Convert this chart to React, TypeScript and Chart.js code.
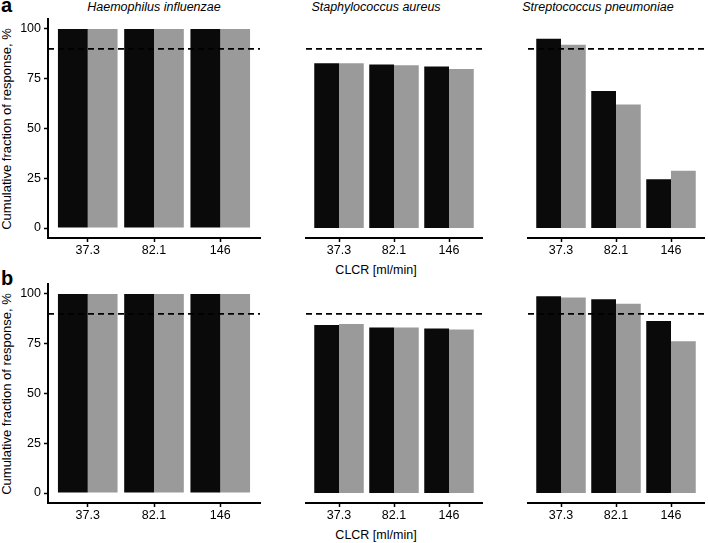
import React, { useEffect, useRef } from "react";
import { Chart, registerables } from "chart.js";

Chart.register(...registerables);

// ---------- data ----------
const categories = ["37.3", "82.1", "146"];
const organisms = ["Haemophilus influenzae", "Staphylococcus aureus", "Streptococcus pneumoniae"];
const yTicks = [0, 25, 50, 75, 100];
const targetLine = 90;
const yAxisTitle = "Cumulative fraction of response, %";
const xAxisTitle = "CLCR [ml/min]";

// panel a
const aHinfBlack = [100, 100, 100];
const aHinfGray = [100, 100, 100];
const aSaurBlack = [82.8, 82.1, 81.1];
const aSaurGray = [82.8, 81.8, 79.9];
const aSpneBlack = [95.1, 68.8, 24.5];
const aSpneGray = [92.1, 62.0, 28.8];

// panel b
const bHinfBlack = [100, 100, 100];
const bHinfGray = [100, 100, 100];
const bSaurBlack = [84.4, 83.2, 82.6];
const bSaurGray = [84.9, 83.1, 82.2];
const bSpneBlack = [98.8, 97.3, 86.4];
const bSpneGray = [98.2, 95.1, 76.2];

// ---------- styling ----------
const FONT = "'Liberation Sans', Arial, Helvetica, sans-serif";
const BLACK = "#0a0a0a";
const GRAY = "#9a9a9a";
const TEXT = "#000000";
const X_AXIS_H = 20;
const Y_AXIS_W = 36;
const PAD_TOP = 14;
const PAD_RIGHT = 4;
const PAD_BOTTOM = 2;
const PAD_LEFT = 4;

const hlinePlugin = {
  id: "hline90",
  afterDatasetsDraw(chart: any) {
    const { ctx, chartArea } = chart;
    const y = chart.scales.y.getPixelForValue(targetLine);
    ctx.save();
    ctx.setLineDash([6, 4]);
    ctx.lineWidth = 1.8;
    ctx.strokeStyle = "#000";
    ctx.beginPath();
    ctx.moveTo(chartArea.left, y);
    ctx.lineTo(chartArea.right, y);
    ctx.stroke();
    ctx.restore();
  },
};

type PanelProps = {
  x0: number;
  x1: number;
  y0: number;
  y1: number;
  showY: boolean;
  black: number[];
  gray: number[];
};

function Panel({ x0, x1, y0, y1, showY, black, gray }: PanelProps) {
  const ref = useRef<HTMLCanvasElement | null>(null);
  const left = showY ? x0 - Y_AXIS_W : x0 - PAD_LEFT;
  const top = y0 - PAD_TOP;
  const width = x1 + PAD_RIGHT - left;
  const height = y1 + X_AXIS_H + PAD_BOTTOM - top;

  useEffect(() => {
    if (!ref.current) return;
    const chart = new Chart(ref.current, {
      type: "bar",
      data: {
        datasets: [
          {
            data: categories.map((_, i) => ({ x: i + 1, y: black[i] })),
            backgroundColor: BLACK,
            borderWidth: 0,
            categoryPercentage: 0.9,
            barPercentage: 1.0,
          },
          {
            data: categories.map((_, i) => ({ x: i + 1, y: gray[i] })),
            backgroundColor: GRAY,
            borderWidth: 0,
            categoryPercentage: 0.9,
            barPercentage: 1.0,
          },
        ],
      },
      options: {
        animation: false,
        responsive: false,
        maintainAspectRatio: false,
        devicePixelRatio: 1,
        layout: {
          padding: { top: PAD_TOP, right: PAD_RIGHT, bottom: PAD_BOTTOM, left: showY ? 0 : PAD_LEFT },
        },
        plugins: { legend: { display: false }, tooltip: { enabled: false } },
        events: [],
        scales: {
          x: {
            type: "linear",
            min: 0.4,
            max: 3.6,
            offset: false,
            afterBuildTicks: (s: any) => {
              s.ticks = categories.map((_, i) => ({ value: i + 1 }));
            },
            afterFit: (s: any) => {
              s.height = X_AXIS_H;
            },
            ticks: {
              autoSkip: false,
              maxRotation: 0,
              padding: 1,
              color: TEXT,
              font: { family: FONT, size: 12.5 },
              callback: (_v: any, i: number) => categories[i],
            },
            grid: {
              offset: false,
              drawOnChartArea: false,
              drawTicks: true,
              tickLength: 4,
              tickColor: "#000",
              tickWidth: 1.5,
            },
            border: { display: true, color: "#000", width: 2 },
          },
          y: {
            display: showY,
            min: -5,
            max: 105,
            afterBuildTicks: (s: any) => {
              s.ticks = yTicks.map((v) => ({ value: v }));
            },
            afterFit: (s: any) => {
              s.width = Y_AXIS_W;
            },
            ticks: {
              padding: 3,
              color: TEXT,
              font: { family: FONT, size: 12.5 },
            },
            grid: {
              offset: false,
              drawOnChartArea: false,
              drawTicks: true,
              tickLength: 4,
              tickColor: "#000",
              tickWidth: 1.5,
            },
            border: { display: true, color: "#000", width: 2 },
          },
        },
      },
      plugins: [hlinePlugin],
    } as any);
    return () => chart.destroy();
  }, []);

  return (
    <canvas
      ref={ref}
      width={width}
      height={height}
      style={{ position: "absolute", left, top, width, height }}
    />
  );
}

const PANEL_X: [number, number][] = [
  [48, 260],
  [270, 482],
  [492, 704],
];

const ROWS = [
  { label: "a", y0: 19, y1: 238, data: [[aHinfBlack, aHinfGray], [aSaurBlack, aSaurGray], [aSpneBlack, aSpneGray]] },
  { label: "b", y0: 284, y1: 503, data: [[bHinfBlack, bHinfGray], [bSaurBlack, bSaurGray], [bSpneBlack, bSpneGray]] },
];

export default function App() {
  return (
    <div
      style={{
        position: "absolute",
        left: 0,
        top: 0,
        width: 708,
        height: 543,
        background: "#fff",
        fontFamily: FONT,
        color: TEXT,
        overflow: "hidden",
      }}
    >
      {/* panel titles */}
      {organisms.map((o, i) => {
        const cx = (PANEL_X[i][0] + PANEL_X[i][1]) / 2;
        return (
          <div
            key={o}
            style={{
              position: "absolute",
              left: cx - 110,
              width: 220,
              top: 1,
              textAlign: "center",
              fontStyle: "italic",
              fontSize: 12.5,
              lineHeight: "12.5px",
              whiteSpace: "nowrap",
            }}
          >
            {o}
          </div>
        );
      })}

      {ROWS.map((row, r) => {
        const cy = (row.y0 + row.y1) / 2;
        const p2c = (PANEL_X[1][0] + PANEL_X[1][1]) / 2;
        return (
          <React.Fragment key={row.label}>
            <div
              style={{
                position: "absolute",
                left: 1,
                top: r === 0 ? -5.5 : 267.5,
                fontSize: 20,
                lineHeight: "20px",
                fontWeight: "bold",
                color: "#000",
              }}
            >
              {row.label}
            </div>
            <div
              style={{
                position: "absolute",
                left: 7.4 - 120,
                top: cy - 7,
                width: 240,
                height: 14,
                lineHeight: "14px",
                fontSize: 13,
                textAlign: "center",
                whiteSpace: "nowrap",
                transform: "rotate(-90deg)",
                transformOrigin: "50% 50%",
              }}
            >
              {yAxisTitle}
            </div>
            <div
              style={{
                position: "absolute",
                left: p2c - 100,
                width: 200,
                top: row.y1 + 25,
                textAlign: "center",
                fontSize: 12.5,
                lineHeight: "14px",
                whiteSpace: "nowrap",
              }}
            >
              {xAxisTitle}
            </div>
            {PANEL_X.map(([x0, x1], i) => (
              <Panel
                key={i}
                x0={x0}
                x1={x1}
                y0={row.y0}
                y1={row.y1}
                showY={i === 0}
                black={row.data[i][0]}
                gray={row.data[i][1]}
              />
            ))}
          </React.Fragment>
        );
      })}
    </div>
  );
}
